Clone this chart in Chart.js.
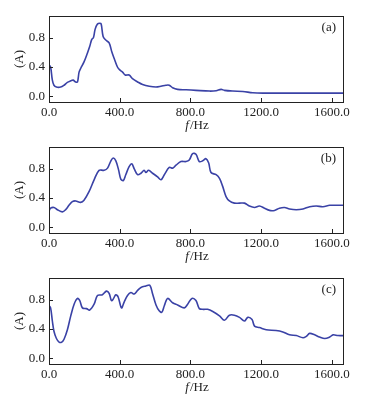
<!DOCTYPE html>
<html>
<head>
<meta charset="utf-8">
<script src="https://cdn.jsdelivr.net/npm/chart.js@4.4.1/dist/chart.umd.min.js"></script>
<style>
  body { margin: 0; background: #fff; }
  .panel { position: absolute; left: 0; width: 373px; height: 134px; }
</style>
</head>
<body>
<div class="panel" style="top:0px"><canvas id="chartA"></canvas></div>
<div class="panel" style="top:131px"><canvas id="chartB"></canvas></div>
<div class="panel" style="top:262px"><canvas id="chartC"></canvas></div>
<script>
const xTicks = [0, 400, 800, 1200, 1600];
const yTicks = [0, 0.4, 0.8];

// panel (a)
const freqA = [0, 9, 19, 28, 42, 66, 85, 104, 123, 136, 151, 161, 170, 179, 198, 217, 230, 242, 251, 261, 274, 287, 295, 306, 321, 340, 355, 368, 387, 400, 416, 431, 453, 472, 501, 529, 567, 605, 633, 661, 680, 699, 727, 775, 831, 907, 945, 973, 992, 1039, 1096, 1152, 1209, 1417, 1668];
const ampA = [0.43, 0.40, 0.22, 0.15, 0.125, 0.125, 0.15, 0.19, 0.21, 0.22, 0.195, 0.195, 0.33, 0.38, 0.47, 0.59, 0.68, 0.78, 0.80, 0.92, 0.99, 1.0, 0.99, 0.82, 0.77, 0.73, 0.61, 0.52, 0.40, 0.36, 0.33, 0.29, 0.29, 0.24, 0.195, 0.16, 0.135, 0.125, 0.135, 0.15, 0.15, 0.115, 0.093, 0.088, 0.08, 0.07, 0.075, 0.093, 0.08, 0.07, 0.065, 0.047, 0.042, 0.042, 0.042];

// panel (b)
const freqB = [0, 9, 28, 47, 76, 94, 113, 132, 151, 179, 198, 227, 255, 283, 312, 331, 350, 363, 378, 393, 406, 420, 434, 453, 468, 482, 501, 520, 538, 548, 563, 586, 614, 633, 652, 680, 699, 718, 746, 775, 793, 812, 831, 850, 869, 888, 903, 916, 945, 964, 982, 1001, 1020, 1048, 1077, 1105, 1133, 1162, 1190, 1218, 1247, 1275, 1303, 1332, 1360, 1398, 1436, 1474, 1511, 1549, 1587, 1624, 1668];
const ampB = [0.22, 0.26, 0.27, 0.24, 0.21, 0.24, 0.30, 0.35, 0.36, 0.34, 0.37, 0.49, 0.65, 0.78, 0.78, 0.81, 0.91, 0.95, 0.91, 0.79, 0.66, 0.64, 0.72, 0.83, 0.87, 0.80, 0.72, 0.74, 0.78, 0.75, 0.78, 0.74, 0.69, 0.65, 0.72, 0.82, 0.81, 0.85, 0.90, 0.90, 0.92, 1.01, 1.00, 0.90, 0.91, 0.94, 0.88, 0.75, 0.72, 0.67, 0.56, 0.42, 0.36, 0.33, 0.33, 0.33, 0.29, 0.27, 0.29, 0.26, 0.23, 0.23, 0.26, 0.27, 0.25, 0.24, 0.25, 0.28, 0.29, 0.28, 0.30, 0.30, 0.30];

// panel (c)
const freqC = [0, 9, 19, 28, 42, 57, 72, 85, 104, 123, 142, 161, 174, 189, 212, 230, 255, 274, 302, 325, 340, 353, 363, 378, 391, 410, 425, 444, 463, 482, 501, 520, 548, 570, 586, 605, 623, 638, 652, 671, 699, 727, 765, 784, 808, 831, 850, 873, 897, 926, 964, 992, 1020, 1048, 1077, 1105, 1124, 1148, 1162, 1190, 1228, 1284, 1322, 1360, 1398, 1436, 1455, 1474, 1502, 1530, 1559, 1587, 1606, 1634, 1668];
const ampC = [0.72, 0.69, 0.51, 0.37, 0.27, 0.22, 0.22, 0.26, 0.39, 0.58, 0.74, 0.82, 0.79, 0.69, 0.68, 0.66, 0.74, 0.86, 0.87, 0.92, 0.89, 0.79, 0.81, 0.87, 0.84, 0.69, 0.77, 0.86, 0.90, 0.88, 0.93, 0.97, 0.99, 1.0, 0.88, 0.73, 0.65, 0.63, 0.72, 0.82, 0.76, 0.73, 0.69, 0.74, 0.82, 0.79, 0.68, 0.67, 0.67, 0.64, 0.58, 0.52, 0.59, 0.59, 0.56, 0.51, 0.56, 0.53, 0.44, 0.42, 0.39, 0.38, 0.36, 0.32, 0.31, 0.28, 0.30, 0.34, 0.32, 0.29, 0.27, 0.29, 0.32, 0.31, 0.31];

const serif = '"Liberation Serif", "DejaVu Serif", serif';

// frame, inward ticks, panel letter and x title
const framePlugin = {
    id: 'frame',
    afterDraw(chart, args, opts) {
        const ctx = chart.ctx;
        const a = chart.chartArea;
        ctx.save();
        ctx.strokeStyle = '#222';
        ctx.lineWidth = 1;
        ctx.strokeRect(a.left + 0.5, a.top + 0.5, a.right - a.left - 1, a.bottom - a.top);
        const xs = chart.scales.x;
        const ys = chart.scales.y;
        ctx.beginPath();
        xs.ticks.forEach(t => {
            const px = Math.round(xs.getPixelForValue(t.value)) + 0.5;
            ctx.moveTo(px, a.bottom);
            ctx.lineTo(px, a.bottom - 4);
        });
        ys.ticks.forEach(t => {
            const py = Math.round(ys.getPixelForValue(t.value)) + 0.5;
            ctx.moveTo(a.left, py);
            ctx.lineTo(a.left + 4, py);
        });
        ctx.stroke();

        ctx.fillStyle = '#222';
        ctx.font = '13px ' + serif;
        ctx.textAlign = 'right';
        ctx.textBaseline = 'middle';
        ctx.fillText(opts.label, a.right - 8, a.top + 12);

        // f/Hz with italic f
        const cx = (a.left + a.right) / 2;
        const ty = a.bottom + 24;
        ctx.font = 'italic 13px ' + serif;
        const w1 = ctx.measureText('f').width;
        ctx.font = '13px ' + serif;
        const w2 = ctx.measureText('/Hz').width;
        const x0 = cx - (w1 + w2) / 2;
        ctx.textAlign = 'left';
        ctx.font = 'italic 13px ' + serif;
        ctx.fillText('f', x0, ty);
        ctx.font = '13px ' + serif;
        ctx.fillText('/Hz', x0 + w1 + 1, ty);
        ctx.restore();
    }
};

function makeChart(id, freqs, amps, label) {
    const points = freqs.map((f, i) => ({ x: f, y: amps[i] }));
    const ctx = document.getElementById(id).getContext('2d');
    return new Chart(ctx, {
        type: 'line',
        data: {
            datasets: [{
                data: points,
                borderColor: '#3a42a6',
                borderWidth: 1.6,
                pointRadius: 0,
                tension: 0.35,
                fill: false
            }]
        },
        options: {
            responsive: true,
            maintainAspectRatio: false,
            animation: false,
            layout: { padding: { left: 0, right: 29, top: 16, bottom: 0 } },
            plugins: {
                legend: { display: false },
                tooltip: { enabled: false },
                frame: { label: label }
            },
            scales: {
                x: {
                    type: 'linear',
                    min: 0,
                    max: 1668,
                    grid: { display: false, drawTicks: false },
                    border: { display: false },
                    afterBuildTicks: s => { s.ticks = xTicks.map(v => ({ value: v })); },
                    afterFit: s => { s.height = 32; },
                    ticks: {
                        padding: 3,
                        color: '#222',
                        maxRotation: 0,
                        font: { family: serif, size: 13 },
                        callback: v => v.toFixed(1)
                    }
                },
                y: {
                    min: -0.08,
                    max: 1.1,
                    grid: { display: false, drawTicks: false },
                    border: { display: false },
                    afterBuildTicks: s => { s.ticks = yTicks.map(v => ({ value: v })); },
                    afterFit: s => { s.width = 49; },
                    title: {
                        display: true,
                        text: '(A)',
                        color: '#222',
                        font: { family: serif, size: 13 },
                        padding: { top: 12, bottom: 0 }
                    },
                    ticks: {
                        padding: 4,
                        color: '#222',
                        font: { family: serif, size: 13 },
                        callback: v => v.toFixed(1)
                    }
                }
            }
        },
        plugins: [framePlugin]
    });
}

makeChart('chartA', freqA, ampA, '(a)');
makeChart('chartB', freqB, ampB, '(b)');
makeChart('chartC', freqC, ampC, '(c)');
</script>
</body>
</html>
